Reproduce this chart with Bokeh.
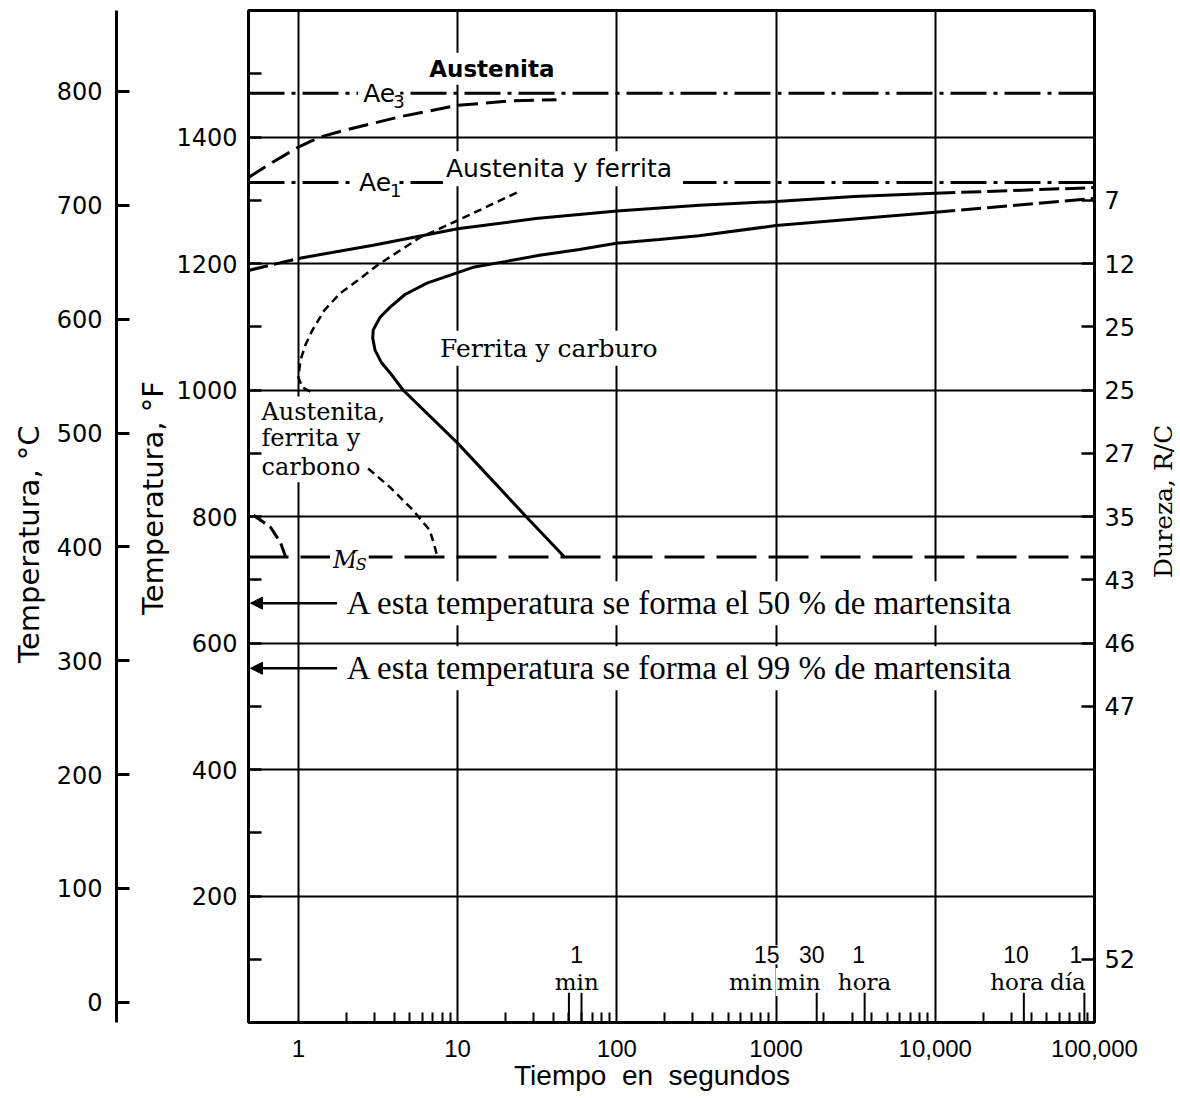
import math
from bokeh.plotting import figure
from bokeh.layouts import row
from bokeh.models import Range1d, LinearAxis, FixedTicker, Span, Arrow, NormalHead
from bokeh.core.properties import value
from bokeh.embed import file_html
from bokeh.resources import INLINE

# ---------------- data (time in s, temperature in °F) ----------------
ae3_F = 1469
ae1_F = 1328
ms_F = 736
m50_F = 663
m99_F = 560

# proeutectoid ferrite start (long dashes)
ferr_t = [0.486, 0.668, 1.0, 1.37, 1.91, 4.35, 10, 21.2, 41.8]
ferr_F = [1336, 1358, 1384, 1400, 1410, 1432, 1450, 1457, 1459]

# short-dashed curve, upper branch
start_t = [23.5, 10, 5.8, 3.12, 2.44, 1.83, 1.455, 1.22, 1.106, 1.03, 1.0, 1.06, 1.22]
start_F = [1312, 1268, 1241, 1197, 1176, 1153, 1126, 1094, 1071, 1047, 1020, 1004, 996]

# short-dashed curve, lower branch
low_t = [2.74, 3.77, 5.25, 6.7, 7.2, 7.41]
low_F = [876, 846, 810, 778, 751, 739]

# upper solid curve
up_dash_t = [0.486, 1.0]
up_dash_F = [1189, 1208]
up_t = [1.0, 2.95, 10, 31, 100, 330, 1000, 3100, 10000]
up_F = [1208, 1229, 1255, 1271, 1283, 1292, 1298, 1306, 1311]
up_tail_t = [10000, 100000]
up_tail_F = [1311, 1320]

# C curve (end of transformation)
c_t = [46.9, 28.3, 10, 4.54, 3.77, 3.31, 3.03, 2.93, 2.95, 3.26, 3.77, 4.67, 6.42,
       12.5, 19.8, 32.7, 58.2, 99.3, 184, 328, 1000, 10000]
c_F = [736, 794, 916, 1000, 1027, 1044, 1063, 1082, 1095, 1115, 1131, 1151, 1169,
       1194, 1203, 1213, 1222, 1232, 1238, 1244, 1260, 1281]
c_tail_t = [10000, 100000]
c_tail_F = [1281, 1303]

# small hook near Ms
hook_t = [0.523, 0.668, 0.772, 0.829]
hook_F = [802, 783, 759, 737]

# axes
decades = [1, 10, 100, 1000, 10000, 100000]
decade_labels = ["1", "10", "100", "1000", "10,000", "100,000"]
grid_t = [1, 10, 100, 1000, 10000]
minor_t = [k * 10 ** e for e in range(0, 5) for k in range(2, 10)]
tall_t = [50, 60, 1800, 3600, 36000, 86400]

time_num = ["1", "15", "30", "1", "10", "1"]
time_num_t = [56, 875, 1675, 3300, 32100, 76300]
time_unit = ["min", "min", "min", "hora", "hora", "día"]
time_unit_t = [56, 695, 1387, 3594, 32600, 68000]

F_ticks = list(range(100, 1600, 100))
F_grid = [200, 400, 600, 800, 1000, 1200, 1400]
C_ticks = [0, 100, 200, 300, 400, 500, 600, 700, 800]
hard_F = [1300, 1200, 1100, 1000, 900, 800, 700, 600, 500, 100]
hard_lab = ["7", "12", "25", "25", "27", "35", "43", "46", "47", "52"]

NB = "\u00a0"

# ---------------- main figure ----------------
p = figure(width=1138, height=1098, x_axis_type="log",
           x_range=Range1d(0.486, 100000), y_range=Range1d(0, 1600),
           output_backend="svg", toolbar_location=None,
           min_border_left=248, min_border_right=42,
           min_border_top=10, min_border_bottom=76)
p.background_fill_color = "white"
p.border_fill_color = "white"
p.outline_line_color = "black"
p.outline_line_width = 3
p.extra_y_ranges = {"C": Range1d((0 - 32) / 1.8, (1600 - 32) / 1.8)}

p.xgrid.ticker = FixedTicker(ticks=grid_t)
p.ygrid.ticker = FixedTicker(ticks=F_grid)
p.xgrid.grid_line_color = "black"
p.ygrid.grid_line_color = "black"
p.xgrid.grid_line_width = 2
p.ygrid.grid_line_width = 2

# bottom axis
xa = p.xaxis[0]
xa.ticker = FixedTicker(ticks=decades, minor_ticks=minor_t)
xa.major_label_overrides = {d: s for d, s in zip(decades, decade_labels)}
xa.axis_line_color = None
xa.major_tick_in = 0
xa.major_tick_out = 0
xa.minor_tick_in = 10
xa.minor_tick_out = 0
xa.minor_tick_line_width = 2
xa.minor_tick_line_color = "black"
xa.major_label_standoff = 17
xa.major_label_text_font = "Liberation Sans"
xa.major_label_text_font_size = "24px"
xa.major_label_text_color = "black"
xa.axis_label = "Tiempo" + NB * 2 + "en" + NB * 2 + "segundos" + NB * 5
xa.axis_label_text_font = "Liberation Sans"
xa.axis_label_text_font_size = "28px"
xa.axis_label_text_font_style = "normal"
xa.axis_label_text_color = "black"
xa.axis_label_standoff = 0

# left °F axis
ya = p.yaxis[0]
ya.ticker = FixedTicker(ticks=F_ticks)
ya.major_label_overrides = {v: "" for v in F_ticks if v % 200 != 0}
ya.axis_line_color = None
ya.major_tick_in = 13
ya.major_tick_out = 0
ya.major_tick_line_width = 2.5
ya.major_tick_line_color = "black"
ya.major_label_standoff = 11
ya.major_label_text_font = "DejaVu Sans"
ya.major_label_text_font_size = "24px"
ya.major_label_text_color = "black"
ya.axis_label = NB * 4 + "Temperatura, °F"
ya.axis_label_text_font = "DejaVu Sans"
ya.axis_label_text_font_size = "29px"
ya.axis_label_text_font_style = "normal"
ya.axis_label_text_color = "black"
ya.axis_label_standoff = 3

# spacer between the two temperature axes
sp = LinearAxis(ticker=FixedTicker(ticks=[]), axis_line_color=None,
                major_tick_line_color=None, minor_tick_line_color=None,
                major_tick_in=0, major_tick_out=0, minor_tick_in=0, minor_tick_out=0,
                axis_label=".", axis_label_text_color="white",
                axis_label_text_font_size="10px", axis_label_standoff=6)
p.add_layout(sp, "left")

# °C axis
ca = LinearAxis(y_range_name="C", ticker=FixedTicker(ticks=C_ticks),
                major_tick_in=13, major_tick_out=0, minor_tick_in=0, minor_tick_out=0,
                axis_line_width=3, axis_line_color="black",
                major_tick_line_width=3, major_tick_line_color="black",
                major_label_standoff=14, major_label_text_font="DejaVu Sans",
                major_label_text_font_size="24px", major_label_text_color="black",
                axis_label="Temperatura, °C" + NB * 6, axis_label_text_font="DejaVu Sans",
                axis_label_text_font_size="29px", axis_label_text_font_style="normal",
                axis_label_text_color="black", axis_label_standoff=8)
p.add_layout(ca, "left")

# right hardness axis
ra = LinearAxis(ticker=FixedTicker(ticks=hard_F),
                major_label_overrides={f: s for f, s in zip(hard_F, hard_lab)},
                major_tick_in=13, major_tick_out=0, minor_tick_in=0, minor_tick_out=0,
                major_tick_line_width=2.5, major_tick_line_color="black",
                axis_line_color=None, major_label_standoff=10,
                major_label_text_font="DejaVu Sans", major_label_text_font_size="24px",
                major_label_text_color="black")
p.add_layout(ra, "right")

# ---------------- horizontal critical lines ----------------
for loc, dash in ((ae3_F, "36 7 4 7"), (ae1_F, "36 7 4 7"), (ms_F, "40 12")):
    p.add_layout(Span(location=loc, dimension="width", line_color="black",
                      line_width=3, line_dash=dash, level="underlay"))

# ---------------- curves ----------------
p.line(ferr_t, ferr_F, line_color="black", line_width=3, line_dash="20 8")
p.line(start_t, start_F, line_color="black", line_width=2.5, line_dash="8 5")
p.line(low_t, low_F, line_color="black", line_width=2.5, line_dash="8 5")
p.line(up_dash_t, up_dash_F, line_color="black", line_width=3, line_dash="20 6")
p.line(up_t, up_F, line_color="black", line_width=3)
p.line(up_tail_t, up_tail_F, line_color="black", line_width=3, line_dash="20 6")
p.line(c_t, c_F, line_color="black", line_width=3)
p.line(c_tail_t, c_tail_F, line_color="black", line_width=3, line_dash="20 6")
p.line(hook_t, hook_F, line_color="black", line_width=3, line_dash="14 6")


# ---------------- texts ----------------
def label(t, F, text, font, size, style="normal", align="left", pad=3, xo=0, yo=0):
    p.text(x=[t], y=[F], text=[text], text_font=value(font), text_font_size=size,
           text_font_style=style, text_align=align, text_baseline="middle",
           text_color="black", background_fill_color="white", padding=pad,
           x_offset=xo, y_offset=yo)


label(16.4, 1508, "Austenita", "DejaVu Sans", "23px", style="bold", align="center")
label(2.375, ae3_F, "Ae", "DejaVu Sans", "25px", pad=5)
label(2.375, ae3_F, "3", "DejaVu Sans", "18px", pad=0, xo=35, yo=8)
label(2.27, ae1_F, "Ae", "DejaVu Sans", "25px", pad=4)
label(2.27, ae1_F, "1", "DejaVu Sans", "18px", pad=0, xo=35, yo=8)
label(8.09, 1350, "Austenita y  ferrita", "DejaVu Sans", "25px")
label(7.42, 1066, "Ferrita y carburo", "DejaVu Serif", "25px")
label(0.578, 966, "Austenita,", "DejaVu Serif", "24px", pad=1)
label(0.578, 924, "ferrita y", "DejaVu Serif", "24px", pad=1)
label(0.578, 878, "carbono", "DejaVu Serif", "24px", pad=1)
label(1.97, ms_F, "M", "DejaVu Serif", "24px", style="italic", align="center", pad=3, yo=3)
label(1.97, ms_F, "S", "DejaVu Serif", "16px", style="italic", align="center", pad=2, xo=16, yo=8)
label(1.9, m50_F, "A esta temperatura se forma  el 50 % de martensita", "Liberation Serif", "33px", pad=4)
label(1.9, m99_F, "A esta temperatura se forma el 99 % de martensita", "Liberation Serif", "33px", pad=4)

for t, s in zip(time_num_t, time_num):
    label(t, 107, s, "Liberation Sans", "23px", align="center", pad=1)
for t, s in zip(time_unit_t, time_unit):
    label(t, 64, s, "DejaVu Serif", "23px", align="center", pad=1)

# tall time marks at the bottom
p.segment(x0=tall_t, y0=[0] * len(tall_t), x1=tall_t, y1=[47] * len(tall_t),
          line_color="black", line_width=2)

# arrows to the left border
for F in (m50_F, m99_F):
    p.add_layout(Arrow(end=NormalHead(size=12, fill_color="black", line_color="black", line_width=1),
                       x_start=1.75, y_start=F, x_end=0.50, y_end=F,
                       line_color="black", line_width=2.5))

# ---------------- narrow strip holding the right-hand title ----------------
p2 = figure(width=42, height=1098, x_range=Range1d(0, 42), y_range=Range1d(0, 1600),
            output_backend="svg", toolbar_location=None,
            min_border_left=0, min_border_right=0, min_border_top=10, min_border_bottom=76)
p2.axis.visible = False
p2.grid.visible = False
p2.outline_line_color = None
p2.background_fill_color = "white"
p2.border_fill_color = "white"
p2.text(x=[25], y=[824], text=["Dureza, R/C"], angle=math.pi / 2,
        text_font=value("DejaVu Serif"), text_font_size="25px", text_color="black",
        text_align="center", text_baseline="middle")

open("out.html", "w").write(file_html(row(p, p2, spacing=0), INLINE))
